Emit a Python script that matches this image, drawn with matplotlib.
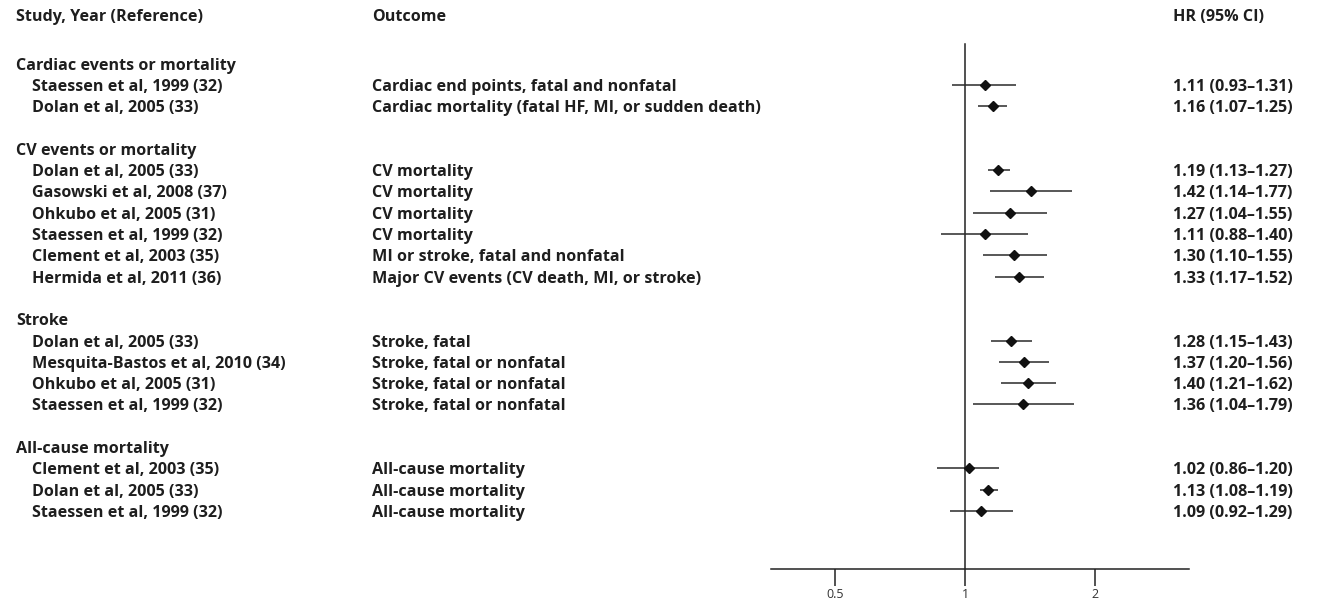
import matplotlib
matplotlib.use("Agg")
import matplotlib.pyplot as plt
import numpy as np
from matplotlib.transforms import blended_transform_factory

groups = ["Cardiac events or mortality", "CV events or mortality", "Stroke", "All-cause mortality"]
studies = [
    ["Staessen et al, 1999 (32)", "Dolan et al, 2005 (33)"],
    ["Dolan et al, 2005 (33)", "Gasowski et al, 2008 (37)", "Ohkubo et al, 2005 (31)",
     "Staessen et al, 1999 (32)", "Clement et al, 2003 (35)", "Hermida et al, 2011 (36)"],
    ["Dolan et al, 2005 (33)", "Mesquita-Bastos et al, 2010 (34)", "Ohkubo et al, 2005 (31)",
     "Staessen et al, 1999 (32)"],
    ["Clement et al, 2003 (35)", "Dolan et al, 2005 (33)", "Staessen et al, 1999 (32)"],
]
outcomes = [
    ["Cardiac end points, fatal and nonfatal", "Cardiac mortality (fatal HF, MI, or sudden death)"],
    ["CV mortality", "CV mortality", "CV mortality", "CV mortality",
     "MI or stroke, fatal and nonfatal", "Major CV events (CV death, MI, or stroke)"],
    ["Stroke, fatal", "Stroke, fatal or nonfatal", "Stroke, fatal or nonfatal", "Stroke, fatal or nonfatal"],
    ["All-cause mortality", "All-cause mortality", "All-cause mortality"],
]
hr = [[1.11, 1.16], [1.19, 1.42, 1.27, 1.11, 1.30, 1.33], [1.28, 1.37, 1.40, 1.36], [1.02, 1.13, 1.09]]
lo = [[0.93, 1.07], [1.13, 1.14, 1.04, 0.88, 1.10, 1.17], [1.15, 1.20, 1.21, 1.04], [0.86, 1.08, 0.92]]
hi = [[1.31, 1.25], [1.27, 1.77, 1.55, 1.40, 1.55, 1.52], [1.43, 1.56, 1.62, 1.79], [1.20, 1.19, 1.29]]
tick_vals = [0.5, 1, 2]
tick_labels = ["0.5", "1", "2"]

W, H = 1323, 603
fig = plt.figure(figsize=(W / 100, H / 100), dpi=100)
fig.patch.set_facecolor("white")

FONT = "Open Sans"
TXT = "#1e1e1e"
fs = 11.6

ax_left, ax_right, ax_bottom_px = 771, 1189, 569
ax = fig.add_axes([ax_left / W, (H - ax_bottom_px) / H, (ax_right - ax_left) / W, ax_bottom_px / H])
ax.set_xscale("log")
ax.set_xlim(0.355, 3.30)
ax.set_ylim(ax_bottom_px, 0)
ax.patch.set_alpha(0)
for s in ["top", "left", "right"]:
    ax.spines[s].set_visible(False)
ax.spines["bottom"].set_linewidth(1.1)
ax.spines["bottom"].set_color("#222222")
ax.set_yticks([])
ax.set_xticks(tick_vals)
ax.set_xticklabels(tick_labels)
ax.minorticks_off()
ax.tick_params(axis="x", length=12, width=1.1, color="#222222", pad=1.5, labelsize=9, labelcolor="#333333")
for lab in ax.get_xticklabels():
    lab.set_fontfamily(FONT)

row_h = 21.3
y0 = 21.0
def row_y(k):
    return y0 + row_h * k

ax.axvline(1, ymin=0, ymax=(ax_bottom_px - 44) / ax_bottom_px, color="#222222", lw=1.1, zorder=1)

tr = blended_transform_factory(fig.transFigure, ax.transData)

def txt(xpx, y, s, ha="left"):
    fig.text(xpx / W, y, s, transform=tr, ha=ha, va="center_baseline", fontsize=fs,
             fontfamily=FONT, fontweight="bold", color=TXT)

hy = row_y(-0.3)
txt(16, hy, "Study, Year (Reference)")
txt(372, hy, "Outcome")
txt(1173, hy, "HR (95% CI)")

k = 2
for gi, g in enumerate(groups):
    txt(16, row_y(k), g)
    k += 1
    for si in range(len(studies[gi])):
        y = row_y(k)
        txt(32, y, studies[gi][si])
        txt(372, y, outcomes[gi][si])
        txt(1173, y, f"{hr[gi][si]:.2f} ({lo[gi][si]:.2f}\u2013{hi[gi][si]:.2f})")
        ax.plot([lo[gi][si], hi[gi][si]], [y, y], color="#2a2a2a", lw=1.1, zorder=2, solid_capstyle="butt")
        ax.plot([hr[gi][si]], [y], marker="D", ms=5.5, color="#111111", mec="#111111", zorder=3, ls="none")
        k += 1
    k += 1

fig.savefig("out.png", dpi=100)
